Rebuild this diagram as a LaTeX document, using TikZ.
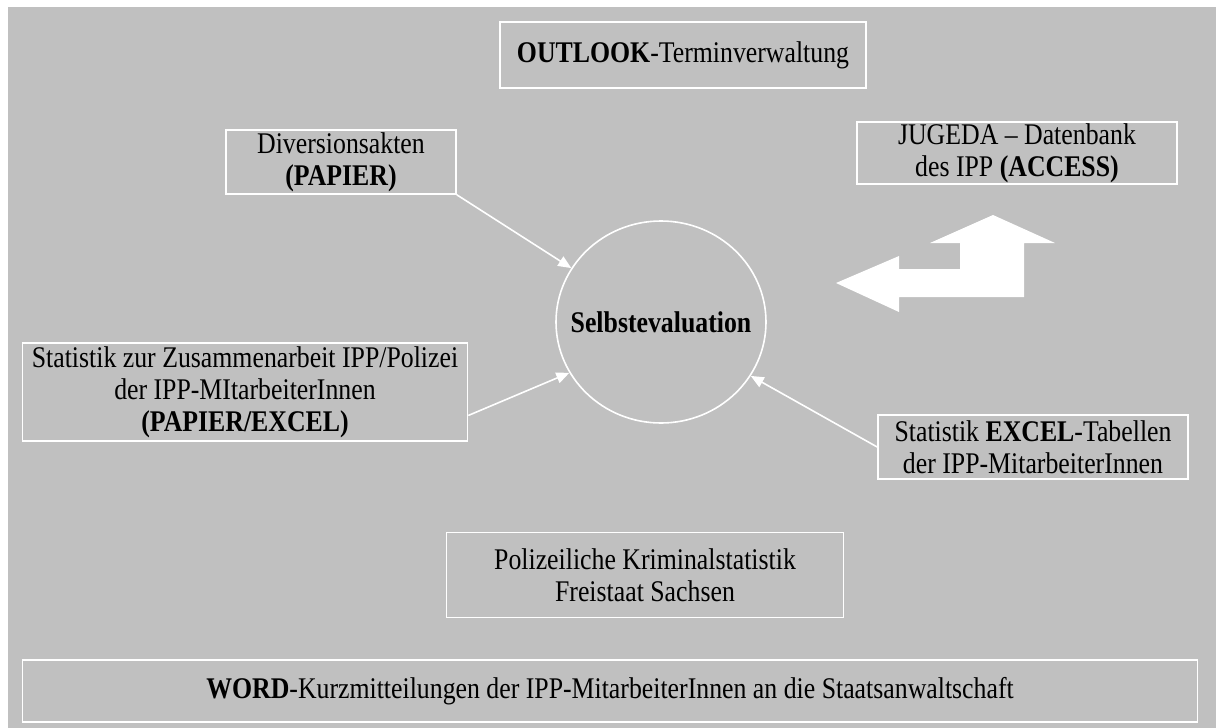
\documentclass[tikz,border=0pt]{standalone}
\usepackage{fontspec}
\setmainfont[FakeStretch=0.86]{Liberation Serif}
\usetikzlibrary{shapes.geometric,arrows.meta}
\definecolor{bggray}{RGB}{192,192,192}

\begin{document}
\begin{tikzpicture}[x=1pt,y=-1pt,
          src/.style={draw=white,line width=1.6pt,align=center,inner sep=0pt,
                      font=\fontsize{30}{32}\selectfont},
          feed/.style={draw=white,line width=1.6pt,
                       -{Triangle[length=13pt,width=11pt]}}]
  \useasboundingbox (0,0) rectangle (1216,728);
  \fill[bggray] (8,7) rectangle (1216,728);
  % data sources
  \node[src,minimum width=366pt,minimum height=66pt] (outlook) at (683,55)
    {\textbf{OUTLOOK}-Terminverwaltung};
  \node[src,minimum width=230pt,minimum height=64pt] (akten) at (341,162)
    {Diversionsakten\\\textbf{(PAPIER)}};
  \node[src,minimum width=320pt,minimum height=62pt] (jugeda) at (1017,153)
    {JUGEDA -- Datenbank\\des IPP \textbf{(ACCESS)}};
  \node[src,minimum width=445pt,minimum height=98pt] (polstat) at (245,392)
    {Statistik zur Zusammenarbeit IPP/Polizei\\der IPP-MItarbeiterInnen\\\textbf{(PAPIER/EXCEL)}};
  \node[src,minimum width=310pt,minimum height=64pt] (excel) at (1033,447)
    {Statistik \textbf{EXCEL}-Tabellen\\der IPP-MitarbeiterInnen};
  \node[src,minimum width=397pt,minimum height=85pt] (pks) at (645,575)
    {Polizeiliche Kriminalstatistik\\Freistaat Sachsen};
  \node[src,minimum width=1175pt,minimum height=62pt] (word) at (610,691)
    {\textbf{WORD}-Kurzmitteilungen der IPP-MitarbeiterInnen an die Staatsanwaltschaft};
  % centre
  \node[src,ellipse,minimum width=210pt,minimum height=202pt] (selbst) at (661,322)
    {\makebox[0pt]{\textbf{Selbstevaluation}}};
  \draw[feed] (akten.south east) -- (selbst.149);
  \draw[feed] (polstat.-6) -- (selbst.209);
  \draw[feed] (excel.west) -- (selbst.329);
  % exchange arrow
  \fill[white] (836,283) -- (899,256) -- (899,269) -- (960,269) -- (960,243)
    -- (930,243) -- (993,215) -- (1055,243) -- (1024,243) -- (1024,297)
    -- (899,297) -- (899,312) -- cycle;
\end{tikzpicture}
\end{document}
